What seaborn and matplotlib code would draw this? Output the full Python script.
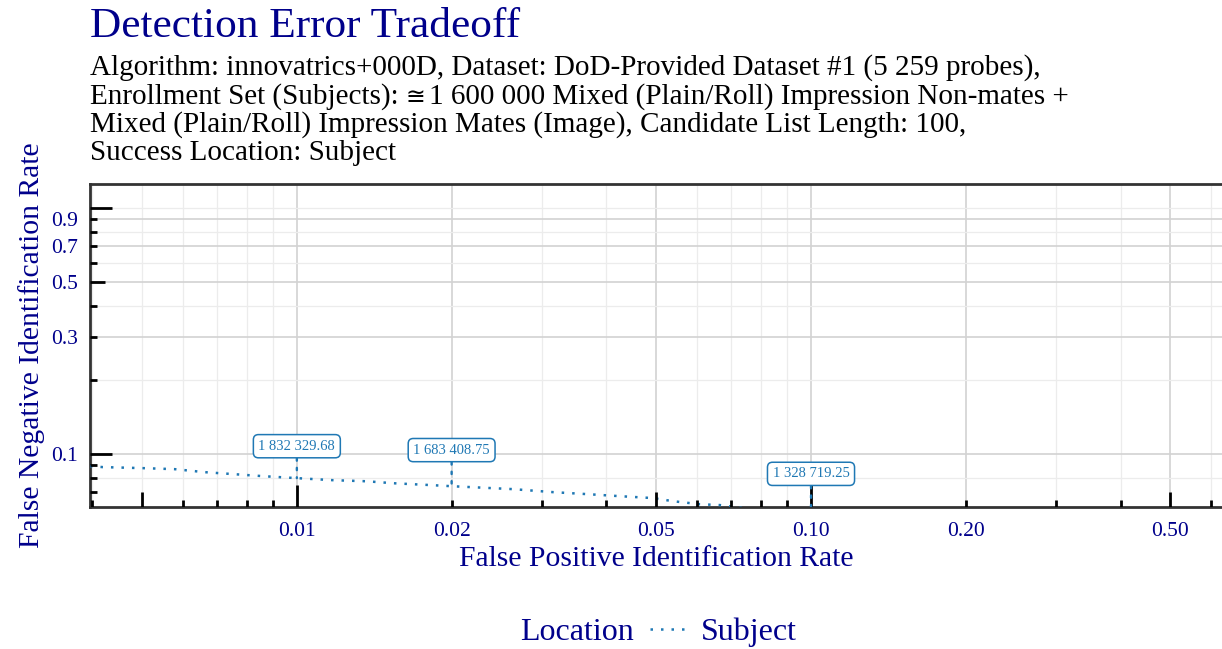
import numpy as np
import pandas as pd
import matplotlib
matplotlib.use("Agg")
import matplotlib.pyplot as plt
import seaborn as sns
from matplotlib.ticker import FixedLocator, NullFormatter

# ---- data ----
fpir = [0.00396, 0.00419, 0.00506, 0.00579, 0.00662, 0.00757, 0.00859, 0.0100,
        0.01175, 0.01368, 0.01538, 0.01839, 0.0200, 0.0263, 0.0315, 0.0367,
        0.0425, 0.0493, 0.0539, 0.0608, 0.0665, 0.100]
fnir = [0.0894, 0.0886, 0.0877, 0.0869, 0.0845, 0.0829, 0.0814, 0.0799,
        0.0784, 0.0776, 0.0762, 0.0748, 0.0741, 0.0721, 0.0701, 0.0688,
        0.0675, 0.0663, 0.0644, 0.0626, 0.0621, 0.0556]
location = ["Subject"] * len(fpir)

ann_fpir = [0.01, 0.02, 0.10]
ann_fnir = [0.0799, 0.0741, 0.0556]
ann_threshold = ["1 832 329.68", "1 683 408.75", "1 328 719.25"]

x_breaks = [0.01, 0.02, 0.05, 0.10, 0.20, 0.50]
x_labels = ["0.01", "0.02", "0.05", "0.10", "0.20", "0.50"]
y_breaks = [0.1, 0.3, 0.5, 0.7, 0.9]
y_labels = ["0.1", "0.3", "0.5", "0.7", "0.9"]

title = "Detection Error Tradeoff"
subtitle_lines = [
    ["Algorithm: innovatrics+000D, Dataset: DoD-Provided Dataset #1 (5 259 probes),"],
    ["Enrollment Set (Subjects): ", "\u2245", "1 600 000 Mixed (Plain/Roll) Impression Non-mates +"],
    ["Mixed (Plain/Roll) Impression Mates (Image), Candidate List Length: 100,"],
    ["Success Location: Subject"],
]
xlabel = "False Positive Identification Rate"
ylabel = "False Negative Identification Rate"
legend_title = "Location"

# ---- style ----
BLUE = "#1F78B4"
NAVY = "#00008B"
W, H = 1222, 649
AX_L, AX_R, AX_T, AX_B = 90, 1222, 184, 507
AXW, AXH = AX_R - AX_L, AX_B - AX_T

sns.set_theme(style="white")
plt.rcParams["font.family"] = ["Liberation Serif", "DejaVu Serif", "DejaVu Sans"]

fig = plt.figure(figsize=(W / 100, H / 100), dpi=100)
ax = fig.add_axes([AX_L / W, (H - AX_B) / H, AXW / W, AXH / H])

df = pd.DataFrame({"FPIR": fpir, "FNIR": fnir, "Location": location})
sns.lineplot(data=df, x="FPIR", y="FNIR", hue="Location",
             palette={"Subject": BLUE}, sort=False, ax=ax,
             linewidth=1.8, linestyle=(0, (1, 3.2)), zorder=3)

ax.set_xscale("log")
ax.set_yscale("log")
ax.set_xlim(0.00396, 0.63)
ax.set_ylim(0.061, 1.252)

# major (labelled) ticks
ax.xaxis.set_major_locator(FixedLocator(x_breaks))
ax.set_xticklabels(x_labels)
ax.yaxis.set_major_locator(FixedLocator(y_breaks))
ax.set_yticklabels(y_labels)
ax.tick_params(which="major", direction="out", length=6, width=1.8,
               color="#333333", labelcolor=NAVY, labelsize=15.5, pad=3)
ax.tick_params(axis="x", which="major", pad=5)

# minor grid positions
x_minor = [d * m for d in (0.001, 0.01, 0.1) for m in range(1, 10)]
x_minor = [v for v in x_minor if v not in x_breaks]
y_minor = [0.08, 0.2, 0.4, 0.6, 0.8, 1.0]
ax.xaxis.set_minor_locator(FixedLocator(x_minor))
ax.yaxis.set_minor_locator(FixedLocator(y_minor))
ax.xaxis.set_minor_formatter(NullFormatter())
ax.yaxis.set_minor_formatter(NullFormatter())
ax.tick_params(which="minor", length=0)
ax.grid(which="major", color="#d2d2d2", linewidth=1.2)
ax.grid(which="minor", color="#ececec", linewidth=0.9)
ax.set_axisbelow(True)

# log ticks drawn inside the panel (annotation_logticks style)
x_short = [d * m for d in (0.001, 0.01, 0.1) for m in (2, 3, 4, 6, 7, 8, 9)]
x_mid = [0.005, 0.05, 0.5]
x_long = [0.01, 0.1]
y_short = [0.07, 0.08, 0.09, 0.2, 0.3, 0.4, 0.6, 0.7, 0.8, 0.9]
y_mid = [0.5]
y_long = [0.1, 1.0]
for pos, ln in ((x_short, 7), (x_mid, 15), (x_long, 22)):
    ax.vlines(pos, 0, ln / AXH, transform=ax.get_xaxis_transform(),
              colors="black", linewidth=2.0, zorder=4)
for pos, ln in ((y_short, 7), (y_mid, 15), (y_long, 22)):
    ax.hlines(pos, 0, ln / AXW, transform=ax.get_yaxis_transform(),
              colors="black", linewidth=2.0, zorder=4)

for side in ("top", "left", "bottom"):
    ax.spines[side].set_color("#333333")
    ax.spines[side].set_linewidth(2)
ax.spines["right"].set_visible(False)

# annotations
offsets = [23, 26, 31]
for x, y, t, off in zip(ann_fpir, ann_fnir, ann_threshold, offsets):
    a = ax.annotate(t, xy=(x, y), xytext=(0, off), textcoords="offset points",
                    ha="center", va="center", fontsize=10.5, color=BLUE,
                    bbox=dict(boxstyle="round,pad=0.35,rounding_size=0.35",
                              fc="white", ec=BLUE, lw=1.1),
                    arrowprops=dict(arrowstyle="-", color=BLUE, lw=1.7,
                                    linestyle=(0, (1, 3)), shrinkA=0, shrinkB=0),
                    annotation_clip=False, zorder=5)
    a.arrow_patch.set_clip_on(True)
    a.arrow_patch.set_clip_box(ax.bbox)

# axis labels
ax.set_xlabel(xlabel, color=NAVY, fontsize=21.3)
ax.set_ylabel(ylabel, color=NAVY, fontsize=21.3)
ax.xaxis.set_label_coords(0.5, (AX_B - 546) / AXH)
ax.yaxis.set_label_coords((45 - AX_L) / AXW, 0.5)

# title
fig.text(AX_L / W, 1 - 37 / H, title, color=NAVY, fontsize=31.2,
         va="baseline", ha="left")

# subtitle, line by line (pieces laid out one after the other)
renderer = fig.canvas.get_renderer()
baselines = [74.5, 103.5, 132, 160]
for pieces, bl in zip(subtitle_lines, baselines):
    xpix = AX_L
    for piece in pieces:
        is_sym = piece == "\u2245"
        fam = ["DejaVu Sans"] if is_sym else ["Liberation Serif", "DejaVu Sans"]
        size = 17 if is_sym else 21
        t = fig.text(xpix / W, 1 - bl / H, piece, color="black", fontsize=size,
                     family=fam, va="baseline", ha="left")
        ext = t.get_window_extent(renderer=renderer)
        xpix = ext.x1 + (3 if is_sym else 0)

# legend
handle = ax.get_lines()[0]
if ax.get_legend() is not None:
    ax.get_legend().remove()
fig.text(520 / W, 1 - 632 / H, legend_title, color=NAVY, fontsize=23,
         va="center", ha="left")
fig.legend(handles=[handle], labels=["Subject"], loc="center left",
           bbox_to_anchor=(650 / W, 1 - 632 / H), frameon=False,
           fontsize=23, labelcolor=NAVY, handlelength=1.3, handletextpad=0.3,
           borderaxespad=0, borderpad=0)

fig.savefig("out.png", dpi=100)
